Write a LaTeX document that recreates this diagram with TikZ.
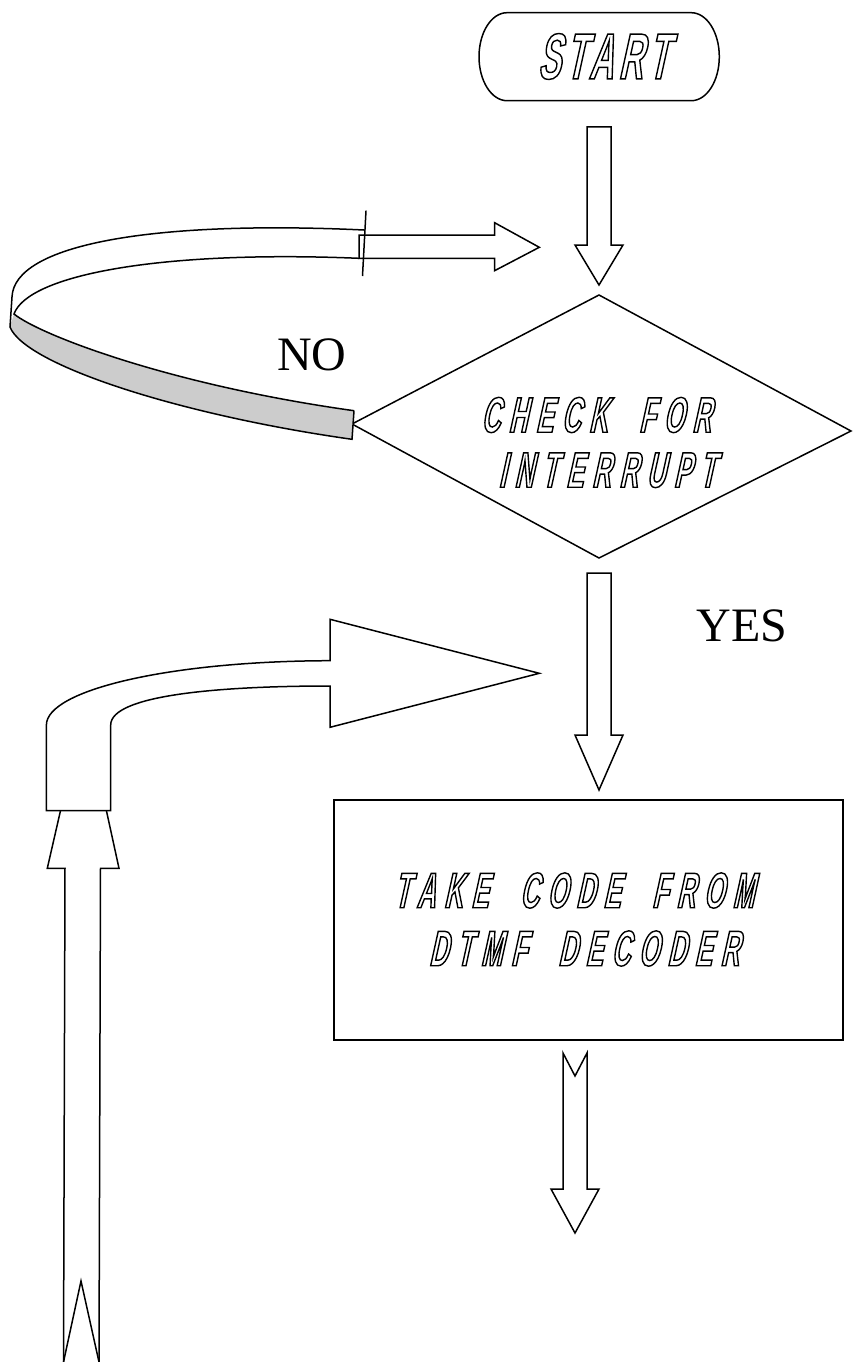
\documentclass[tikz,border=0pt]{standalone}
\usepackage{fontspec}
\newfontfamily\lblfont{Liberation Serif}
\newfontfamily\flowfont[FakeStretch=0.52,FakeSlant=0.22,LetterSpace=17,WordSpace=2]{Liberation Sans Bold}
\newfontfamily\startfont[FakeStretch=0.52,FakeSlant=0.22,LetterSpace=8]{Liberation Sans Bold}
\newcommand\hollowtext[1]{\special{pdf:literal direct 1 Tr 1.4 w}#1\special{pdf:literal direct 0 Tr}}
\definecolor{bandgray}{RGB}{204,204,204}
\begin{document}
\begin{tikzpicture}[x=1pt,y=-1pt,
  every path/.style={line width=1.5pt, line join=miter},
  blockarrow/.style={draw=black, fill=white, line width=1.5pt},
  flowtext/.style={inner sep=0pt, align=center, font=\flowfont\fontsize{50}{56}\selectfont},
  answer/.style={inner sep=0pt, font=\lblfont\fontsize{48}{50}\selectfont}]
\useasboundingbox (0,0) rectangle (852,1362);

% START terminal
\draw (507,12.7) -- (691.3,12.7) arc[start angle=-90, end angle=90, x radius=28, y radius=44]
      -- (507,100.7) arc[start angle=90, end angle=270, x radius=28, y radius=44] -- cycle;
\node[inner sep=0pt, font=\startfont\fontsize{65}{70}\selectfont] (start) at (603,56.5) {\hollowtext{START}};

% arrow START -> decision
\draw[blockarrow] (587,127) -- (611,127) -- (611,245) -- (623,245) -- (599,285) -- (575,245) -- (587,245) -- cycle;

% decision diamond
\coordinate (dtop) at (599,295);
\coordinate (dright) at (851,431);
\coordinate (dbottom) at (599,558);
\coordinate (dleft) at (352,424);
\draw (dtop) -- (dright) -- (dbottom) -- (dleft) -- cycle;
\node[flowtext, font=\flowfont\fontsize{50}{55}\selectfont] (dec) at (596,442.5)
  {\hollowtext{CHECK FOR}\\\hspace*{22pt}\hollowtext{INTERRUPT}};

% NO loop band
\fill[bandgray] (14,314) .. controls (40,335) and (170,385) .. (354,410.7) -- (352,439.3)
   .. controls (180,415) and (25,365) .. (10,327) -- cycle;
\draw (364,230) .. controls (150,220) and (14,245) .. (12,297) -- (10,327)
   .. controls (25,365) and (180,415) .. (352,439.3) -- (354,410.7);
\draw (359,258.3) .. controls (160,250) and (28,275) .. (14,314)
   .. controls (40,335) and (170,385) .. (354,410.7);
\draw[blockarrow] (359,235) -- (494.6,235) -- (494.6,222.7) -- (539.3,247.3) -- (494.6,270.7)
   -- (494.6,258.3) -- (359,258.3) -- cycle;
\draw (366,210.7) -- (362.5,276);
\node[answer] (no) at (312,355) {NO};

% arrow decision -> process
\draw[blockarrow] (587,573) -- (611,573) -- (611,735) -- (623,735) -- (599,790) -- (575,735) -- (587,735) -- cycle;
\node[answer] (yes) at (742,625.5) {YES};

% process box
\node[draw, line width=1.5pt, minimum width=509pt, minimum height=240pt, inner sep=0pt] (proc) at (588.5,920) {};
\node[flowtext, font=\flowfont\fontsize{50}{58}\selectfont] (proctext) at (574,919.5)
  {\hollowtext{TAKE CODE FROM}\\\hspace*{20pt}\hollowtext{DTMF DECODER}};

% arrow out of process
\draw[blockarrow] (563,1053) -- (575,1076) -- (587,1053) -- (587,1189) -- (599,1189) -- (575,1233)
   -- (551,1189) -- (563,1189) -- cycle;

% return path: up arrow then bent arrow
\draw[blockarrow] (63.5,1362) -- (65,868.3) -- (47.3,868.3) -- (84,708) -- (119,868.3) -- (100.5,868.3)
   -- (99,1362);
\draw (63.5,1362) -- (81,1281) -- (99,1362);
\draw[blockarrow] (46.4,810.7) -- (46.4,725) .. controls (46.4,690) and (170,661) .. (330,660.7)
   -- (330,619.3) -- (539.3,673.3) -- (330,727.3) -- (330,686)
   .. controls (220,686) and (110.7,695) .. (110.7,725) -- (110.7,810.7) -- cycle;
\end{tikzpicture}
\end{document}
